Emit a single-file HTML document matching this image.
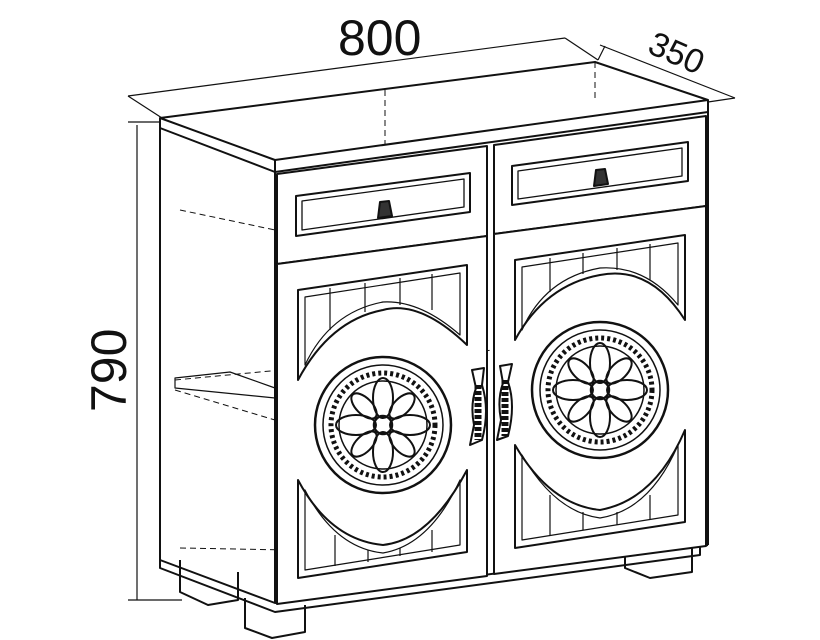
<!DOCTYPE html>
<html><head><meta charset="utf-8"><style>
html,body{margin:0;padding:0;background:#fff;width:820px;height:640px;overflow:hidden}
svg{display:block}
text{font-family:"Liberation Sans",sans-serif;fill:#111}
</style></head><body>
<svg width="820" height="640" viewBox="0 0 820 640" fill="none" stroke="#111" stroke-width="2" stroke-linejoin="round">
<g stroke-width="1.2">
<line x1="128" y1="96" x2="565" y2="38"/>
<line x1="162" y1="118" x2="128" y2="96"/>
<line x1="565" y1="38" x2="598" y2="60"/>
<line x1="600" y1="45" x2="735" y2="98"/>
<line x1="598" y1="60" x2="605" y2="46"/>
<line x1="708" y1="102" x2="735" y2="98"/>
<line x1="137" y1="125" x2="137" y2="600"/>
<line x1="128" y1="122" x2="160" y2="122"/>
<line x1="128" y1="600" x2="182" y2="600"/>
</g>
<text x="338" y="55" font-size="50" stroke="none">800</text>
<text x="0" y="0" font-size="34" stroke="none" transform="translate(646,52) rotate(24)">350</text>
<text x="0" y="0" font-size="50" stroke="none" transform="translate(126,412) rotate(-90)">790</text>
<path d="M160 118 L595 62 L708 100 L275 160 Z" fill="#fff"/>
<path d="M275 160 L275 172 L708 112 L708 100"/>
<path d="M160 118 L160 128 L275 172"/>
<path d="M160 128 L160 560 L275 603 L275 172"/>
<g stroke-width="1" stroke-dasharray="6 4">
<line x1="385" y1="90" x2="385" y2="145"/>
<line x1="160" y1="118" x2="275" y2="160"/>
<line x1="180" y1="210" x2="275" y2="230"/>
<line x1="175" y1="380" x2="705" y2="330"/>
<line x1="175" y1="390" x2="275" y2="420"/>
<line x1="180" y1="548" x2="290" y2="550"/>
<line x1="595" y1="62" x2="595" y2="100"/>
</g>
<path d="M175 378 L230 372 L275 388 L275 398 L175 388 Z" stroke-width="1.2"/>
<path d="M708 112 L708 545"/>
<path d="M180 560 L180 592 L208 605 L238 600 L238 572"/>
<path d="M245 598 L245 628 L272 638 L305 632 L305 605"/>
<path d="M625 552 L625 568 L650 578 L692 572 L692 548"/>
<path d="M160 560 L160 568 L275 612 L700 555 L700 545"/>
<path d="M275 603 L708 545"/>
<path d="M277 174 L487 146 L487 236 L277 264 Z" fill="#fff"/>
<path d="M296 196 L470 173 L470 212 L296 236 Z"/>
<path d="M302 201 L464 179 L464 207 L302 230 Z" stroke-width="1.3"/>
<path d="M380 202 l9 -1 l3 15 l-14 2 Z" fill="#333"/>
<path d="M494 145 L706 116 L706 206 L494 234 Z" fill="#fff"/>
<path d="M512 166 L688 142 L688 181 L512 205 Z"/>
<path d="M518 171 L682 148 L682 176 L518 199 Z" stroke-width="1.3"/>
<path d="M596 170 l9 -1 l3 15 l-14 2 Z" fill="#333"/>
<path d="M277 264 L487 236 L487 576 L277 604 Z" fill="#fff"/>
<path d="M298 290 L467 265 L467 345 Q420 300 383 310 Q330 320 298 380 Z"/>
<path d="M305 297 L460 273 L460 335 Q420 300 383 302 Q330 312 305 365 Z" stroke-width="1.2"/>
<g stroke-width="1.2"><line x1="330" y1="288" x2="330" y2="330"/><line x1="365" y1="283" x2="365" y2="312"/><line x1="400" y1="278" x2="400" y2="305"/><line x1="432" y1="274" x2="432" y2="310"/></g>
<path d="M298 480 Q330 540 383 545 Q430 540 467 470 L467 552 L298 578 Z"/>
<path d="M305 490 Q335 548 383 553 Q430 545 460 480 L460 545 L305 570 Z" stroke-width="1.2"/>
<g stroke-width="1.2"><line x1="335" y1="535" x2="335" y2="566"/><line x1="368" y1="550" x2="368" y2="562"/><line x1="400" y1="548" x2="400" y2="556"/><line x1="432" y1="530" x2="432" y2="552"/></g>
<circle cx="383" cy="425" r="68" stroke-width="2.5"/>
<circle cx="383" cy="425" r="60" stroke-width="1.5"/>
<circle cx="383" cy="425" r="52" stroke-width="5" stroke-dasharray="3 3"/>
<circle cx="383" cy="425" r="44" stroke-width="1.5"/>
<g stroke-width="2"><ellipse cx="383" cy="398" rx="10" ry="20"/><ellipse cx="383" cy="452" rx="10" ry="20"/><ellipse cx="356" cy="425" rx="20" ry="10"/><ellipse cx="410" cy="425" rx="20" ry="10"/><ellipse cx="364" cy="406" rx="8" ry="16" transform="rotate(-45 364 406)"/><ellipse cx="402" cy="444" rx="8" ry="16" transform="rotate(-45 402 444)"/><ellipse cx="402" cy="406" rx="8" ry="16" transform="rotate(45 402 406)"/><ellipse cx="364" cy="444" rx="8" ry="16" transform="rotate(45 364 444)"/></g>
<circle cx="383" cy="425" r="9" stroke-width="2.5"/>
<path d="M494 234 L706 206 L706 546 L494 574 Z" fill="#fff"/>
<path d="M515 260 L685 235 L685 320 Q650 265 600 275 Q545 285 515 340 Z"/>
<path d="M522 267 L678 243 L678 305 Q645 265 600 268 Q545 278 522 330 Z" stroke-width="1.2"/>
<g stroke-width="1.2"><line x1="550" y1="258" x2="550" y2="292"/><line x1="583" y1="253" x2="583" y2="274"/><line x1="617" y1="248" x2="617" y2="270"/><line x1="650" y1="244" x2="650" y2="280"/></g>
<path d="M515 445 Q550 505 600 510 Q655 500 685 430 L685 522 L515 548 Z"/>
<path d="M522 455 Q555 512 600 518 Q650 510 678 445 L678 515 L522 540 Z" stroke-width="1.2"/>
<g stroke-width="1.2"><line x1="550" y1="495" x2="550" y2="536"/><line x1="583" y1="512" x2="583" y2="530"/><line x1="617" y1="512" x2="617" y2="525"/><line x1="650" y1="495" x2="650" y2="520"/></g>
<circle cx="600" cy="390" r="68" stroke-width="2.5"/>
<circle cx="600" cy="390" r="60" stroke-width="1.5"/>
<circle cx="600" cy="390" r="52" stroke-width="5" stroke-dasharray="3 3"/>
<circle cx="600" cy="390" r="44" stroke-width="1.5"/>
<g stroke-width="2"><ellipse cx="600" cy="363" rx="10" ry="20"/><ellipse cx="600" cy="417" rx="10" ry="20"/><ellipse cx="573" cy="390" rx="20" ry="10"/><ellipse cx="627" cy="390" rx="20" ry="10"/><ellipse cx="581" cy="371" rx="8" ry="16" transform="rotate(-45 581 371)"/><ellipse cx="619" cy="409" rx="8" ry="16" transform="rotate(-45 619 409)"/><ellipse cx="619" cy="371" rx="8" ry="16" transform="rotate(45 619 371)"/><ellipse cx="581" cy="409" rx="8" ry="16" transform="rotate(45 581 409)"/></g>
<circle cx="600" cy="390" r="9" stroke-width="2.5"/>
<path d="M472 370 L484 368 L482 385 Q490 410 482 440 L470 445 L474 425 Q470 405 476 388 Z" fill="#fff" stroke-width="2"/>
<path d="M478 385 L478 440" stroke-width="7" stroke-dasharray="4 2"/>
<path d="M500 366 L512 364 L508 382 Q516 405 508 436 L497 440 L501 420 Q497 400 503 383 Z" fill="#fff" stroke-width="2"/>
<path d="M505 380 L505 436" stroke-width="7" stroke-dasharray="4 2"/>
</svg>
</body></html>
